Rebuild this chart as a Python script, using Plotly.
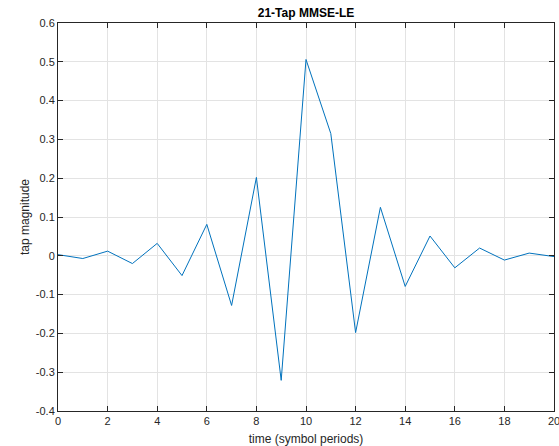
import plotly.graph_objects as go

taps = list(range(21))
tap_values = [0.003, -0.007, 0.012, -0.020, 0.032, -0.051, 0.081, -0.128, 0.202, -0.321,
              0.506, 0.315, -0.198, 0.125, -0.079, 0.051, -0.031, 0.020, -0.011, 0.007, -0.002]
x_ticks = list(range(0, 21, 2))
y_ticks = [round(-0.4 + 0.1 * i, 1) for i in range(11)]
y_tick_labels = ["0" if v == 0 else f"{v:g}" for v in y_ticks]

fig = go.Figure(go.Scatter(x=taps, y=tap_values, mode="lines",
                           line=dict(color="#0072BD", width=1), showlegend=False))

axis_common = dict(showgrid=True, gridcolor="#e3e3e3", gridwidth=1,
                   showline=True, linecolor="#262626", linewidth=1, mirror="ticks",
                   ticks="inside", ticklen=5, tickcolor="#262626", zeroline=False,
                   ticklabeloverflow="allow", automargin=False,
                   tickfont=dict(family="Liberation Sans, Arial", size=11, color="#262626"))

fig.update_xaxes(range=[0, 20], tickvals=x_ticks,
                 title=dict(text="time (symbol periods)", standoff=8,
                            font=dict(family="Liberation Sans, Arial", size=12, color="#262626")),
                 **axis_common)
fig.update_yaxes(range=[-0.4, 0.6], tickvals=y_ticks, ticktext=y_tick_labels,
                 title=dict(text="tap magnitude", standoff=3,
                            font=dict(family="Liberation Sans, Arial", size=12, color="#262626")),
                 **axis_common)

fig.update_layout(
    width=559, height=446,
    margin=dict(l=58, r=5, t=23, b=35),
    paper_bgcolor="white", plot_bgcolor="white",
    title=dict(text="<b>21-Tap MMSE-LE</b>", x=0.5, xanchor="center", xref="paper",
               y=1, yref="container", yanchor="top", pad=dict(t=9),
               font=dict(family="Liberation Sans, Arial", size=12, color="black")),
)

fig.write_html("out.html")
